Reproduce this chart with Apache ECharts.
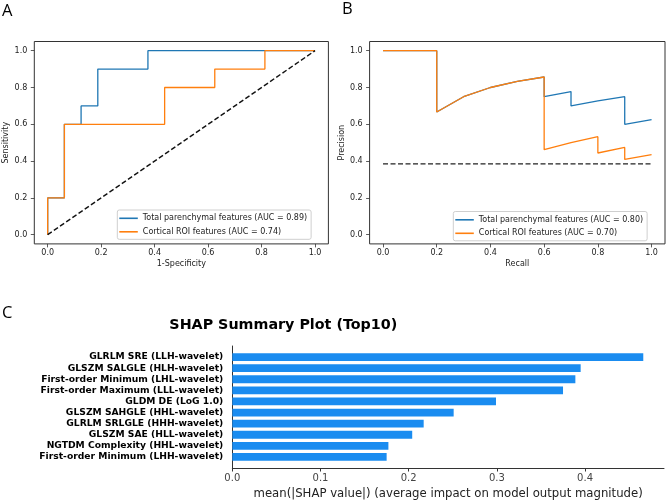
<!DOCTYPE html>
<html>
<head>
<meta charset="utf-8">
<script src="https://cdn.jsdelivr.net/npm/echarts@6/dist/echarts.min.js"></script>
<style>
html,body{margin:0;padding:0;background:#fff;}
#chart{width:669px;height:501px;}
</style>
</head>
<body>
<div id="chart"></div>
<script>
// ---- Panel A: ROC curves ----
const rocTotalName = 'Total parenchymal features (AUC = 0.89)';
const rocCortName = 'Cortical ROI features (AUC = 0.74)';
const rocTotalX = [0, 0, 0.0625, 0.0625, 0.125, 0.125, 0.1875, 0.1875, 0.375, 0.375, 1.0];
const rocTotalY = [0, 0.2, 0.2, 0.6, 0.6, 0.7, 0.7, 0.9, 0.9, 1.0, 1.0];
const rocCortX = [0, 0, 0.0625, 0.0625, 0.4375, 0.4375, 0.625, 0.625, 0.8125, 0.8125, 1.0];
const rocCortY = [0, 0.2, 0.2, 0.6, 0.6, 0.8, 0.8, 0.9, 0.9, 1.0, 1.0];
const chanceRocX = [0, 1];
const chanceRocY = [0, 1];

// ---- Panel B: Precision-Recall curves ----
const prTotalName = 'Total parenchymal features (AUC = 0.80)';
const prCortName = 'Cortical ROI features (AUC = 0.70)';
const prTotalX = [0, 0.1, 0.2, 0.2, 0.3, 0.4, 0.5, 0.6, 0.6, 0.7, 0.7, 0.8, 0.9, 0.9, 1.0];
const prTotalY = [1, 1, 1, 0.667, 0.75, 0.8, 0.833, 0.857, 0.75, 0.778, 0.7, 0.727, 0.75, 0.6, 0.625];
const prCortX = [0, 0.1, 0.2, 0.2, 0.3, 0.4, 0.5, 0.6, 0.6, 0.7, 0.8, 0.8, 0.9, 0.9, 1.0];
const prCortY = [1, 1, 1, 0.667, 0.75, 0.8, 0.833, 0.857, 0.462, 0.5, 0.533, 0.444, 0.474, 0.409, 0.435];
const chancePrX = [0, 1];
const chancePrY = [0.385, 0.385];

const unitTicks = [0, 0.2, 0.4, 0.6, 0.8, 1.0];

// ---- Panel C: SHAP summary ----
const shapFeatures = [
  'GLRLM SRE (LLH-wavelet)',
  'GLSZM SALGLE (HLH-wavelet)',
  'First-order Minimum (LHL-wavelet)',
  'First-order Maximum (LLL-wavelet)',
  'GLDM DE (LoG 1.0)',
  'GLSZM SAHGLE (HHL-wavelet)',
  'GLRLM SRLGLE (HHH-wavelet)',
  'GLSZM SAE (HLL-wavelet)',
  'NGTDM Complexity (HHL-wavelet)',
  'First-order Minimum (LHH-wavelet)'
];
const shapValues = [0.466, 0.395, 0.389, 0.375, 0.299, 0.251, 0.217, 0.204, 0.177, 0.175];
const shapTicks = [0, 0.1, 0.2, 0.3, 0.4];

const zip = (xs, ys) => xs.map((x, i) => [x, ys[i]]);
const FONT = 'DejaVu Sans';
const BLUE = '#1f77b4', ORANGE = '#ff7f0e';

function unitAxis(gridIndex, name, isY) {
  return {
    type: 'value', gridIndex, min: -0.05, max: 1.05,
    axisLine: { show: false, onZero: false },
    splitLine: { show: false },
    axisTick: { show: true, length: 3.5, customValues: unitTicks, lineStyle: { color: '#333', width: 0.8 } },
    axisLabel: { customValues: unitTicks, formatter: v => v.toFixed(1), fontSize: 8, color: '#222', fontFamily: FONT, margin: isY ? 7 : 5 },
    name, nameLocation: 'middle', nameGap: isY ? 24 : 16,
    nameTextStyle: { fontSize: 8, color: '#222', fontFamily: FONT }
  };
}

function lineSeries(name, data, color, xi, yi, dashed) {
  return {
    name, type: 'line', xAxisIndex: xi, yAxisIndex: yi, data,
    symbol: 'none', clip: false, color, animation: false,
    lineStyle: { color, width: dashed ? 1.4 : 1.3, type: dashed ? [5, 2.5] : 'solid' },
    z: dashed ? 5 : 3
  };
}

function legendFor(names, left, top) {
  return {
    orient: 'vertical', left, top,
    data: names.map(n => ({ name: n, icon: 'rect' })),
    itemWidth: 18.5, itemHeight: 1.6, itemGap: 3.5,
    padding: [3.3, 4, 2.5, 2],
    backgroundColor: 'rgba(255,255,255,0.85)',
    borderColor: '#cfcfcf', borderWidth: 1, borderRadius: 2,
    selectedMode: false,
    textStyle: { fontSize: 8, color: '#222', fontFamily: FONT, lineHeight: 10 }
  };
}

const chart = echarts.init(document.getElementById('chart'), null, { renderer: 'canvas' });

const shapCats = [''].concat(shapFeatures, ['']);
const shapData = ['-'].concat(shapValues, ['-']);

chart.setOption({
  backgroundColor: '#fff',
  animation: false,
  grid: [
    { left: 34.3, top: 41.5, width: 294.1, height: 202.4, show: true, borderColor: '#333', borderWidth: 1, backgroundColor: 'transparent' },
    { left: 369.6, top: 41.5, width: 295.4, height: 202.4, show: true, borderColor: '#333', borderWidth: 1, backgroundColor: 'transparent' },
    { left: 232.3, top: 346, right: 5, bottom: 33 }
  ],
  xAxis: [
    unitAxis(0, '1-Specificity', false),
    unitAxis(1, 'Recall', false),
    {
      type: 'value', gridIndex: 2, min: 0, max: 0.4895,
      axisLine: { show: true, onZero: false, lineStyle: { color: '#333', width: 1 } },
      splitLine: { show: false },
      axisTick: { show: true, length: 3.5, customValues: shapTicks, lineStyle: { color: '#333' } },
      axisLabel: { customValues: shapTicks, formatter: v => v.toFixed(1), fontSize: 10, color: '#444', fontFamily: FONT, margin: 5 },
      name: 'mean(|SHAP value|) (average impact on model output magnitude)',
      nameLocation: 'middle', nameGap: 20,
      nameTextStyle: { fontSize: 11.7, color: '#222', fontFamily: FONT }
    }
  ],
  yAxis: [
    unitAxis(0, 'Sensitivity', true),
    unitAxis(1, 'Precision', true),
    {
      type: 'category', gridIndex: 2, data: shapCats, inverse: true, boundaryGap: false,
      axisLine: { show: true, onZero: false, lineStyle: { color: '#333', width: 1 } },
      axisTick: { show: false },
      splitLine: { show: false },
      axisLabel: { fontSize: 9.2, fontWeight: 'bold', color: '#000', fontFamily: FONT, margin: 9, interval: 0 }
    }
  ],
  legend: [
    legendFor([rocTotalName, rocCortName], 117.3, 210),
    legendFor([prTotalName, prCortName], 453.3, 211.5)
  ],
  series: [
    lineSeries(rocTotalName, zip(rocTotalX, rocTotalY), BLUE, 0, 0, false),
    lineSeries(rocCortName, zip(rocCortX, rocCortY), ORANGE, 0, 0, false),
    lineSeries('chanceROC', zip(chanceRocX, chanceRocY), '#111', 0, 0, true),
    lineSeries(prTotalName, zip(prTotalX, prTotalY), BLUE, 1, 1, false),
    lineSeries(prCortName, zip(prCortX, prCortY), ORANGE, 1, 1, false),
    lineSeries('chancePR', zip(chancePrX, chancePrY), '#222', 1, 1, true),
    {
      name: 'SHAP', type: 'bar', xAxisIndex: 2, yAxisIndex: 2, data: shapData,
      barWidth: 7.8, itemStyle: { color: '#1a8cf0' }, animation: false
    }
  ],
  graphic: [
    { type: 'text', left: 2, top: 3, style: { text: 'A', fontSize: 16.5, fontFamily: 'Open Sans', fill: '#000' } },
    { type: 'text', left: 342, top: 1, style: { text: 'B', fontSize: 16.5, fontFamily: 'Open Sans', fill: '#000' } },
    { type: 'text', left: 2, top: 305, style: { text: 'C', fontSize: 16.5, fontFamily: 'Open Sans', fill: '#000' } },
    { type: 'text', x: 283.3, y: 325, style: { text: 'SHAP Summary Plot (Top10)', fontSize: 14.3, fontWeight: 'bold', fontFamily: FONT, fill: '#000', align: 'center', verticalAlign: 'middle' } }
  ]
});
</script>
</body>
</html>
